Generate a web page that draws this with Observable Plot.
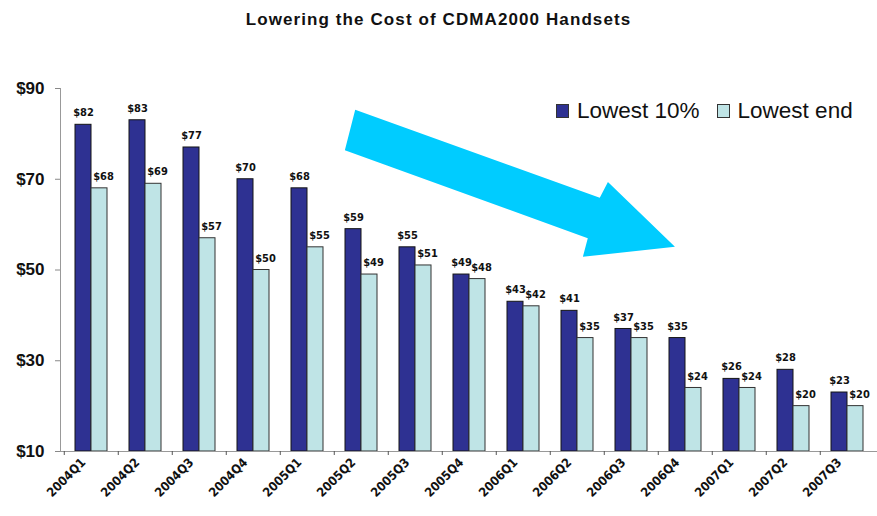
<!DOCTYPE html>
<html><head><meta charset="utf-8">
<script src="https://cdn.jsdelivr.net/npm/d3@7"></script>
<script src="https://cdn.jsdelivr.net/npm/@observablehq/plot@0.6"></script>
<style>
body{margin:0;background:#fff;font-family:"Liberation Sans",Arial,sans-serif;}
#wrap{position:relative;width:877px;height:516px;overflow:hidden;}
#title{height:36px;text-align:center;font-weight:bold;font-size:17px;letter-spacing:1.1px;line-height:20px;padding-top:10px;box-sizing:border-box;color:#111;}
#legend{position:absolute;left:556px;top:98px;display:flex;align-items:center;font-size:22.5px;color:#111;white-space:nowrap;}
.sw{width:11px;height:12px;border:1px solid #333;display:inline-block;margin-right:8px;}
.item{display:flex;align-items:center;margin-right:17px;}
</style></head><body>
<div id="wrap">
<div id="title">Lowering the Cost of CDMA2000 Handsets</div>
<div id="chart"></div>
<div id="legend"></div>
</div>
<script>
const quarters = ["2004Q1","2004Q2","2004Q3","2004Q4","2005Q1","2005Q2","2005Q3","2005Q4","2006Q1","2006Q2","2006Q3","2006Q4","2007Q1","2007Q2","2007Q3"];
const lowest10 = [82,83,77,70,68,59,55,49,43,41,37,35,26,28,23];
const lowestEnd = [68,69,57,50,55,49,51,48,42,35,35,24,24,20,20];
const seriesNames = ["Lowest 10%","Lowest end"];
const seriesColors = ["#2e3192","#bfe4e6"];
const yTicks = [10,30,50,70,90];
// decorative arrow outline: [category position, dollar value]
const arrowShape = [[5.42,85.2],[9.91,65.8],[10.06,69.3],[11.29,55.0],[9.60,52.8],[9.69,56.9],[5.23,76.3]];

const rows = quarters.map((q,i)=>({q, v10: lowest10[i], vEnd: lowestEnd[i]}));
const W=877, H=480, ML=60, MR=0, MT=52, MB=65;
const step = (W-ML-MR)/quarters.length;
const labelFont = '"Liberation Sans Narrow","DejaVu Sans Condensed","Liberation Sans",Arial,sans-serif';

const chart = Plot.plot({
  width:W, height:H, marginLeft:ML, marginRight:MR, marginTop:MT, marginBottom:MB,
  style:{fontFamily:'"Liberation Sans",Arial,sans-serif', background:"transparent", overflow:"visible"},
  x:{domain:quarters, paddingInner:0.413, paddingOuter:0.2065, axis:null},
  y:{domain:[yTicks[0], yTicks[yTicks.length-1]], clamp:true, axis:null},
  marks:[
    (index, scales, values, dims) => {
      const s = (dims.width - dims.marginLeft - dims.marginRight)/quarters.length;
      const pts = arrowShape.map(([u,v]) => [dims.marginLeft + u*s, scales.y(v)]);
      return d3.create("svg:polygon").attr("points", pts.map(p=>p.join(",")).join(" ")).attr("fill","#00ccff").node();
    },
    Plot.barY(rows,{x:"q", y:"v10", fill:seriesColors[0], stroke:"#151515", strokeWidth:1, insetRight:16}),
    Plot.barY(rows,{x:"q", y:"vEnd", fill:seriesColors[1], stroke:"#333", strokeWidth:1, insetLeft:16}),
    Plot.text(rows,{x:"q", y:"v10", text:d=>"$"+d.v10, dx:-8, dy:-12, fontWeight:"bold", fontSize:11, fontFamily:labelFont, fill:"#111"}),
    Plot.text(rows,{x:"q", y:"vEnd", text:d=>"$"+d.vEnd, dx:12, dy:-12, fontWeight:"bold", fontSize:11, fontFamily:labelFont, fill:"#111"}),
    Plot.frame({anchor:"left", stroke:"#999"}),
    Plot.frame({anchor:"bottom", stroke:"#999"}),
    Plot.axisY({ticks:yTicks, tickFormat:d=>"$"+d, tickSize:5, tickPadding:11, fontSize:17, fontWeight:"bold", stroke:"#888", fill:"#111", label:null}),
    Plot.axisX({ticks:quarters, tickSize:4, tickFormat:()=>"", dx:-step/2, stroke:"#555", label:null}),
    Plot.axisX({ticks:quarters, tickSize:0, tickPadding:9, tickRotate:-45, fontSize:12.5, fontWeight:"bold", fontFamily:labelFont, fill:"#111", label:null, dx:-8})
  ]
});
document.getElementById("chart").appendChild(chart);

const leg = document.getElementById("legend");
seriesNames.forEach((n,i)=>{
  const it = document.createElement("div"); it.className="item";
  const sw = document.createElement("span"); sw.className="sw"; sw.style.background=seriesColors[i];
  const t = document.createElement("span"); t.textContent=n;
  it.appendChild(sw); it.appendChild(t); leg.appendChild(it);
});
</script>
</body></html>
